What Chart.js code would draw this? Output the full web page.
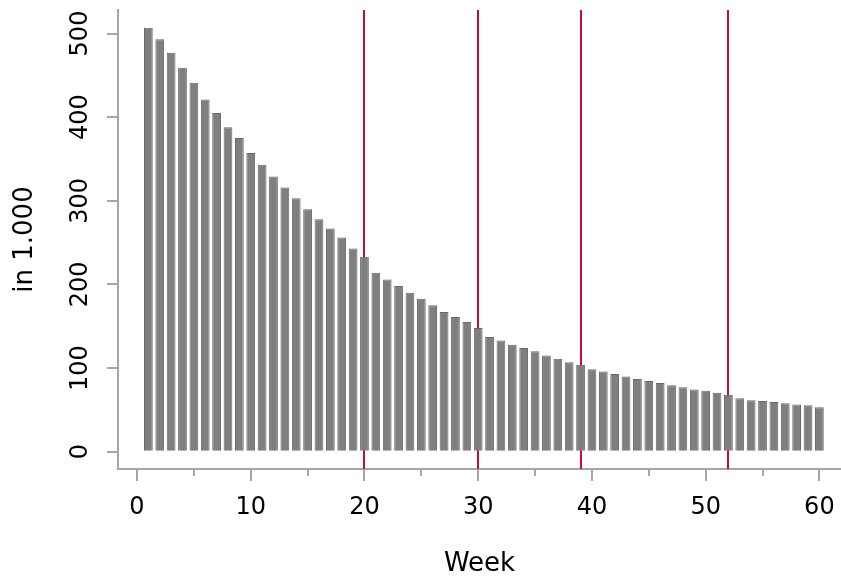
<!DOCTYPE html>
<html>
<head>
<meta charset="utf-8">
<script src="https://cdn.jsdelivr.net/npm/chart.js@4"></script>
<style>
  html, body { margin: 0; padding: 0; background: #fff; }
</style>
</head>
<body>
<canvas id="weekly" width="841" height="577"></canvas>
<script>
const weeks = Array.from({ length: 60 }, (_, i) => i + 1);
const values = [
  507, 493, 477, 459, 441, 421, 405, 388, 375, 357,
  343, 329, 316, 303, 290, 278, 267, 256, 243, 233,
  214, 206, 198, 190, 183, 175, 167, 161, 155, 148,
  137, 133, 128, 124, 120, 115, 111, 107, 104, 98.5,
  96, 93, 90, 87, 84.5, 82, 79.5, 77, 74.5, 73,
  70.5, 68, 64, 61.5, 60.5, 59.5, 58, 56.5, 55.5, 53
];
const markerWeeks = [20, 30, 39, 52];
const xTicks = [0, 10, 20, 30, 40, 50, 60];
const xMinorTicks = [5, 15, 25, 35, 45, 55];
const yTicks = [0, 100, 200, 300, 400, 500];

const axisGrey = '#a6a6a6';
const fontFamily = '"DejaVu Sans", sans-serif';

// red week markers, drawn under the bars
const markerLines = {
  id: 'markerLines',
  beforeDatasetsDraw(chart) {
    const { ctx, chartArea, scales } = chart;
    ctx.save();
    ctx.strokeStyle = '#cc0a3a';
    ctx.lineWidth = 2;
    markerWeeks.forEach(w => {
      const x = Math.round(scales.x.getPixelForValue(w));
      ctx.beginPath();
      ctx.moveTo(x, chartArea.top);
      ctx.lineTo(x, chartArea.bottom);
      ctx.stroke();
    });
    ctx.restore();
  }
};

// short minor ticks on the week axis
const minorTicks = {
  id: 'minorTicks',
  afterDraw(chart) {
    const { ctx, chartArea, scales } = chart;
    ctx.save();
    ctx.strokeStyle = axisGrey;
    ctx.lineWidth = 2;
    xMinorTicks.forEach(v => {
      const x = Math.round(scales.x.getPixelForValue(v));
      ctx.beginPath();
      ctx.moveTo(x, chartArea.bottom);
      ctx.lineTo(x, chartArea.bottom + 7);
      ctx.stroke();
    });
    ctx.restore();
  }
};

// keep label overhang from shrinking the plot area
function noPad(s) {
  s.paddingTop = 0;
  s.paddingBottom = 0;
  s.paddingLeft = 0;
  s.paddingRight = 0;
}

new Chart(document.getElementById('weekly'), {
  type: 'bar',
  data: {
    datasets: [{
      data: weeks.map((w, i) => ({ x: w, y: values[i] })),
      backgroundColor: '#7f7f7f',
      borderColor: '#686868',
      borderWidth: 1,
      categoryPercentage: 1,
      barPercentage: 0.77
    }]
  },
  options: {
    responsive: false,
    animation: false,
    layout: { padding: { top: 10, right: 0, bottom: 0, left: 0 } },
    plugins: { legend: { display: false }, tooltip: { enabled: false } },
    scales: {
      x: {
        type: 'linear',
        min: -1.67,
        max: 61.9,
        offset: false,
        afterBuildTicks: s => { s.ticks = xTicks.map(v => ({ value: v })); },
        afterFit: s => { s.height = 108; noPad(s); },
        grid: { display: true, drawOnChartArea: false, drawTicks: true, tickLength: 12, color: axisGrey, lineWidth: 2, offset: false },
        border: { display: true, color: axisGrey, width: 2 },
        ticks: { color: '#000', font: { family: fontFamily, size: 24 }, padding: 12, maxRotation: 0, autoSkip: false },
        title: { display: true, text: 'Week', color: '#000', font: { family: fontFamily, size: 26 }, padding: { top: 0, bottom: -3 } }
      },
      y: {
        min: -20.7,
        max: 528.1,
        afterBuildTicks: s => { s.ticks = yTicks.map(v => ({ value: v })); },
        afterFit: s => { s.width = 118; noPad(s); },
        grid: { display: true, drawOnChartArea: false, drawTicks: true, tickLength: 11, color: axisGrey, lineWidth: 2 },
        border: { display: true, color: axisGrey, width: 2 },
        ticks: { color: '#000', font: { family: fontFamily, size: 24 }, padding: 3, minRotation: 90, maxRotation: 90, crossAlign: 'center', autoSkip: false },
        title: { display: true, text: 'in 1.000', color: '#000', font: { family: fontFamily, size: 26 }, padding: { top: 10, bottom: 0 } }
      }
    }
  },
  plugins: [markerLines, minorTicks]
});
</script>
</body>
</html>
